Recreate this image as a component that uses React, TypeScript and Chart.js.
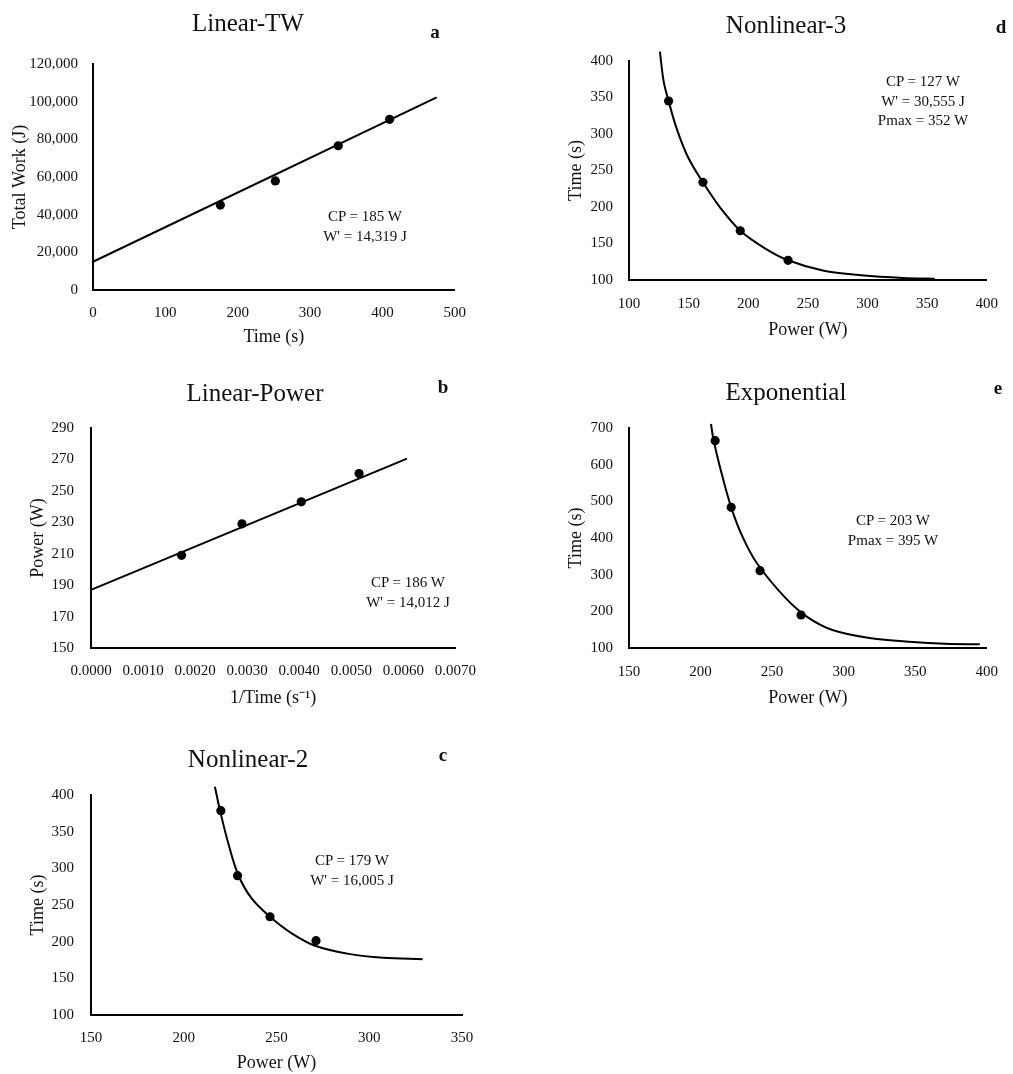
import React, { useEffect, useRef } from "react";
import { Chart, registerables } from "chart.js";
Chart.register(...registerables);

const SERIF = "'Liberation Serif', 'Times New Roman', serif";
const INK = "#111";

// ---- a: Linear-TW ----
const aTime = [176, 252, 339, 410];
const aWork = [45100, 57900, 76600, 90600];
const aFitTime = [0, 475];
const aFitWork = [15000, 102300];
const aXTicks = [0, 100, 200, 300, 400, 500];
const aYTicks = [0, 20000, 40000, 60000, 80000, 100000, 120000];

// ---- b: Linear-Power ----
const bInvTime = [0.00174, 0.0029, 0.00404, 0.00515];
const bPower = [209, 229, 243, 261];
const bFitInvTime = [0, 0.00607];
const bFitPower = [187, 270.5];
const bXTicks = [0, 0.001, 0.002, 0.003, 0.004, 0.005, 0.006, 0.007];
const bYTicks = [150, 170, 190, 210, 230, 250, 270, 290];

// ---- c: Nonlinear-2 ----
const cPower = [220, 229, 246.5, 271.3];
const cTime = [378.6, 290, 234, 201.3];
const cCurvePower = [216.8, 219.5, 224, 229.4, 236.6, 246.5, 258.2, 270.8, 289.6, 307.6, 328.8];
const cCurveTime = [411.3, 379.5, 334.1, 290.9, 259, 234, 211.4, 194.5, 183, 178, 176];
const cXTicks = [150, 200, 250, 300, 350];
const cYTicks = [100, 150, 200, 250, 300, 350, 400];

// ---- d: Nonlinear-3 ----
const dPower = [133.2, 162, 193.3, 233.4];
const dTime = [345.2, 233.8, 167.5, 127];
const dCurvePower = [125.9, 129.1, 133.2, 139.9, 149.3, 162, 176.3, 193.3, 214, 233.4, 262.5, 294.8, 329.9, 356.3];
const dCurveTime = [412.7, 371.7, 345.2, 307.8, 268.9, 233.8, 199.5, 167.5, 143.4, 127, 113, 106.4, 102.7, 101.8];
const dXTicks = [100, 150, 200, 250, 300, 350, 400];
const dYTicks = [100, 150, 200, 250, 300, 350, 400];

// ---- e: Exponential ----
const ePower = [210.2, 221.4, 241.6, 270.2];
const eTime = [665.4, 483.6, 310.9, 190];
const eCurvePower = [207.3, 209.1, 214.7, 221.4, 229.3, 239.4, 258.5, 274.2, 292.2, 319.1, 348.3, 370.8, 395.1];
const eCurveTime = [710.9, 667.3, 576.4, 483.6, 403.6, 331, 240, 185.5, 149, 126.4, 116.4, 111.8, 110];
const eXTicks = [150, 200, 250, 300, 350, 400];
const eYTicks = [100, 200, 300, 400, 500, 600, 700];

const zip = (xs: number[], ys: number[]) => xs.map((x, i) => ({ x, y: ys[i] }));

type PanelProps = {
  left: number; top: number; width: number; height: number;
  padTop: number; padRight: number; yWidth: number; xHeight: number;
  xTicks: number[]; yTicks: number[];
  xFmt: (v: number) => string; yFmt: (v: number) => string;
  xTitle: string; yTitle: string;
  xTickPad: number; yTickPad: number; xTitlePad: number; yTitlePad: number;
  px: number[]; py: number[]; fx: number[]; fy: number[]; curved: boolean;
};

function Panel(p: PanelProps) {
  const ref = useRef<HTMLCanvasElement | null>(null);
  useEffect(() => {
    if (!ref.current) return;
    const tickFont = { family: SERIF, size: 15 };
    const titleFont = { family: SERIF, size: 18 };
    const chart = new Chart(ref.current, {
      type: "scatter",
      data: {
        datasets: [
          {
            data: zip(p.fx, p.fy),
            showLine: true,
            borderColor: "#000",
            borderWidth: 2,
            pointRadius: 0,
            tension: p.curved ? 0.35 : 0,
            clip: false,
            order: 2,
          } as any,
          {
            data: zip(p.px, p.py),
            showLine: false,
            backgroundColor: "#000",
            borderColor: "#000",
            pointRadius: 4.6,
            pointBorderWidth: 0,
            order: 1,
          },
        ],
      },
      options: {
        animation: false,
        responsive: false,
        events: [],
        layout: { padding: { top: p.padTop, right: p.padRight, left: 0, bottom: 0 } },
        plugins: { legend: { display: false }, tooltip: { enabled: false } },
        scales: {
          x: {
            type: "linear",
            min: p.xTicks[0],
            max: p.xTicks[p.xTicks.length - 1],
            afterBuildTicks: (s: any) => { s.ticks = p.xTicks.map((v) => ({ value: v })); },
            afterFit: (s: any) => { s.height = p.xHeight; },
            ticks: {
              font: tickFont, color: INK, padding: p.xTickPad, maxRotation: 0, autoSkip: false,
              callback: (v: any) => p.xFmt(Number(v)),
            },
            grid: { display: false, drawTicks: false },
            border: { display: true, color: "#000", width: 2 },
            title: { display: true, text: p.xTitle, font: titleFont, color: INK, padding: { top: 0, bottom: p.xTitlePad } },
          },
          y: {
            type: "linear",
            min: p.yTicks[0],
            max: p.yTicks[p.yTicks.length - 1],
            afterBuildTicks: (s: any) => { s.ticks = p.yTicks.map((v) => ({ value: v })); },
            afterFit: (s: any) => { s.width = p.yWidth; },
            ticks: {
              font: tickFont, color: INK, padding: p.yTickPad, autoSkip: false,
              callback: (v: any) => p.yFmt(Number(v)),
            },
            grid: { display: false, drawTicks: false },
            border: { display: true, color: "#000", width: 2 },
            title: { display: true, text: p.yTitle, font: titleFont, color: INK, padding: { top: p.yTitlePad, bottom: 0 } },
          },
        },
      } as any,
    });
    return () => chart.destroy();
  }, []);
  return (
    <canvas
      ref={ref}
      width={p.width}
      height={p.height}
      style={{ position: "absolute", left: p.left, top: p.top, width: p.width, height: p.height, display: "block" }}
    />
  );
}

function Txt(props: { x: number; y: number; size: number; bold?: boolean; children: React.ReactNode }) {
  return (
    <div
      style={{
        position: "absolute", left: props.x, top: props.y, transform: "translate(-50%, -50%)",
        fontFamily: SERIF, fontSize: props.size, fontWeight: props.bold ? "bold" : "normal",
        color: INK, whiteSpace: "nowrap", lineHeight: 1.3, textAlign: "center",
      }}
    >
      {props.children}
    </div>
  );
}

const int = (v: number) => String(Math.round(v));
const comma = (v: number) => Math.round(v).toLocaleString("en-US");
const four = (v: number) => v.toFixed(4);

export default function App() {
  return (
    <div style={{ position: "absolute", left: 0, top: 0, width: 1013, height: 1074, background: "#fff" }}>
      <Panel left={0} top={38} width={480} height={312} padTop={26} padRight={25} yWidth={93} xHeight={60}
        xTicks={aXTicks} yTicks={aYTicks} xFmt={int} yFmt={comma} xTitle="Time (s)" yTitle="Total Work (J)"
        xTickPad={14} yTickPad={15} xTitlePad={2} yTitlePad={9}
        px={aTime} py={aWork} fx={aFitTime} fy={aFitWork} curved={false} />
      <Panel left={0} top={402} width={490} height={313} padTop={26} padRight={25} yWidth={91} xHeight={67}
        xTicks={bXTicks} yTicks={bYTicks} xFmt={four} yFmt={int} xTitle="1/Time (s⁻¹)" yTitle="Power (W)"
        xTickPad={14} yTickPad={17} xTitlePad={6} yTitlePad={27}
        px={bInvTime} py={bPower} fx={bFitInvTime} fy={bFitPower} curved={false} />
      <Panel left={0} top={769} width={490} height={305} padTop={26} padRight={28} yWidth={91} xHeight={59}
        xTicks={cXTicks} yTicks={cYTicks} xFmt={int} yFmt={int} xTitle="Power (W)" yTitle="Time (s)"
        xTickPad={14} yTickPad={17} xTitlePad={0} yTitlePad={27}
        px={cPower} py={cTime} fx={cCurvePower} fy={cCurveTime} curved={true} />
      <Panel left={540} top={35} width={473} height={315} padTop={26} padRight={13} yWidth={89} xHeight={70}
        xTicks={dXTicks} yTicks={dYTicks} xFmt={int} yFmt={int} xTitle="Power (W)" yTitle="Time (s)"
        xTickPad={15} yTickPad={16} xTitlePad={9} yTitlePad={25}
        px={dPower} py={dTime} fx={dCurvePower} fy={dCurveTime} curved={true} />
      <Panel left={540} top={402} width={473} height={313} padTop={26} padRight={13} yWidth={89} xHeight={67}
        xTicks={eXTicks} yTicks={eYTicks} xFmt={int} yFmt={int} xTitle="Power (W)" yTitle="Time (s)"
        xTickPad={15} yTickPad={16} xTitlePad={6} yTitlePad={25}
        px={ePower} py={eTime} fx={eCurvePower} fy={eCurveTime} curved={true} />

      <Txt x={248} y={23} size={25}>Linear-TW</Txt>
      <Txt x={435} y={32} size={19} bold>a</Txt>
      <Txt x={255} y={393} size={25}>Linear-Power</Txt>
      <Txt x={443} y={387} size={19} bold>b</Txt>
      <Txt x={248} y={759} size={25}>Nonlinear-2</Txt>
      <Txt x={443} y={755} size={19} bold>c</Txt>
      <Txt x={786} y={25} size={25}>Nonlinear-3</Txt>
      <Txt x={1001} y={27} size={19} bold>d</Txt>
      <Txt x={786} y={392} size={25}>Exponential</Txt>
      <Txt x={998} y={388} size={19} bold>e</Txt>

      <Txt x={365} y={226} size={15}>CP = 185 W<br />W' = 14,319 J</Txt>
      <Txt x={408} y={592} size={15}>CP = 186 W<br />W' = 14,012 J</Txt>
      <Txt x={352} y={870} size={15}>CP = 179 W<br />W' = 16,005 J</Txt>
      <Txt x={923} y={101} size={15}>CP = 127 W<br />W' = 30,555 J<br />Pmax = 352 W</Txt>
      <Txt x={893} y={530} size={15}>CP = 203 W<br />Pmax = 395 W</Txt>
    </div>
  );
}
